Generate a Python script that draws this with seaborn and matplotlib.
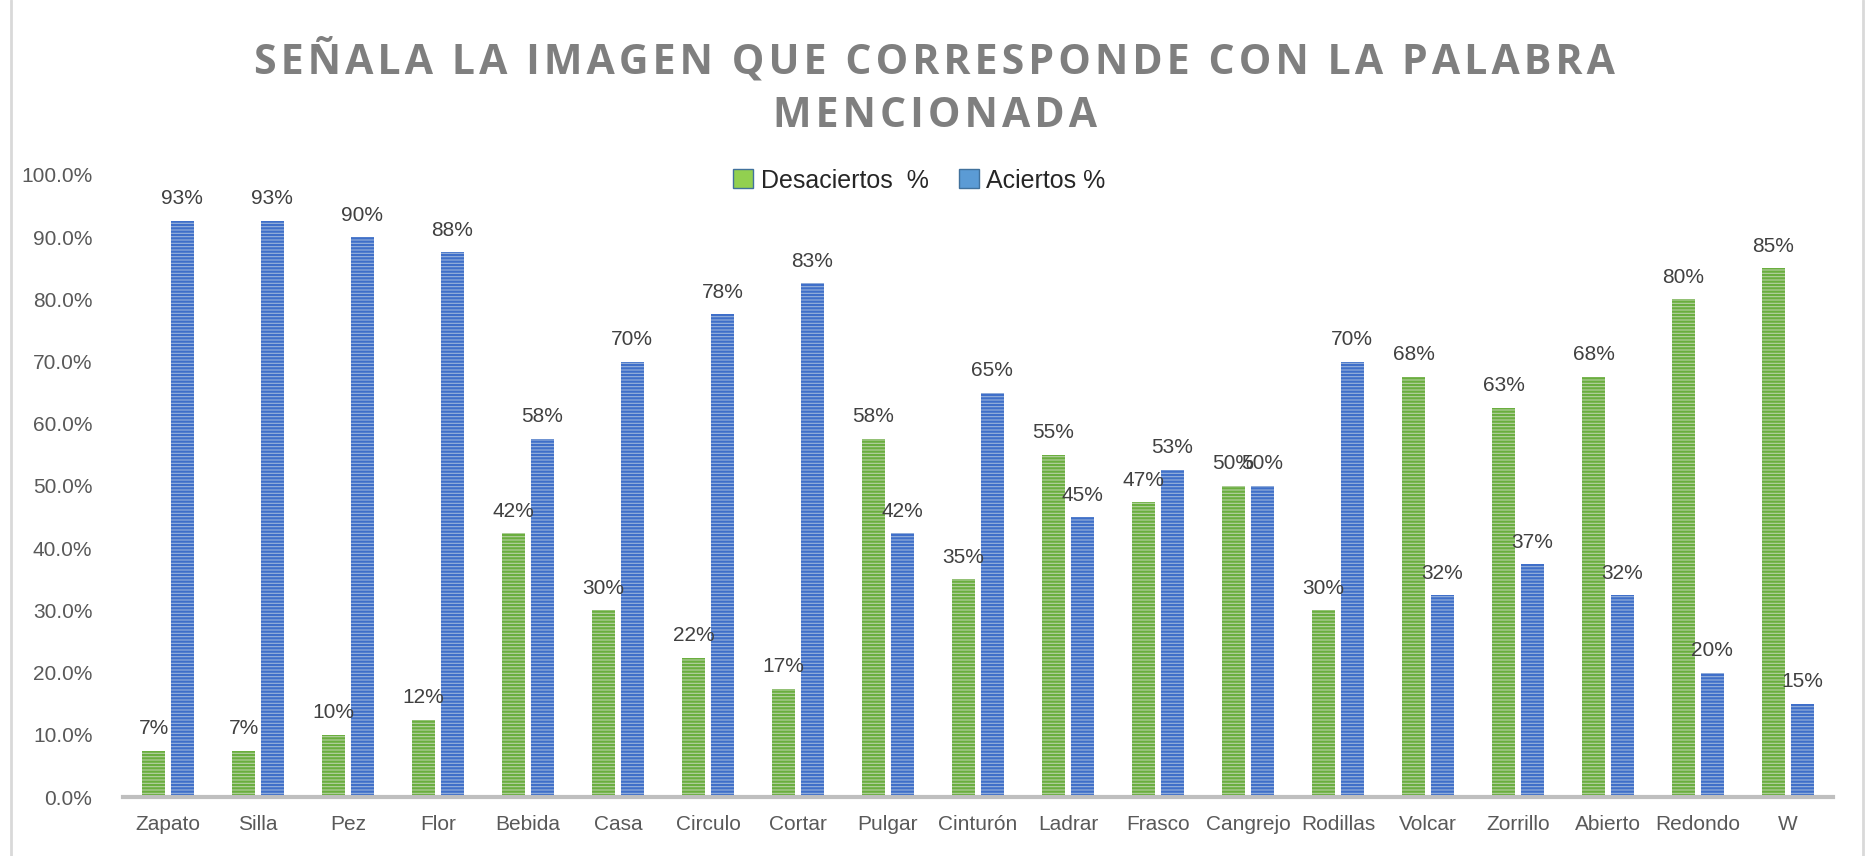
import numpy as np
import pandas as pd
import seaborn as sns
import matplotlib.pyplot as plt
from matplotlib.lines import Line2D
from matplotlib.ticker import FuncFormatter

palabras = ['Zapato', 'Silla', 'Pez', 'Flor', 'Bebida', 'Casa', 'Circulo', 'Cortar',
            'Pulgar', 'Cinturón', 'Ladrar', 'Frasco', 'Cangrejo', 'Rodillas', 'Volcar',
            'Zorrillo', 'Abierto', 'Redondo', 'W']
desaciertos = [7.4, 7.4, 10.0, 12.4, 42.4, 30.0, 22.4, 17.4, 57.6, 35.0, 55.0, 47.4,
               50.0, 30.0, 67.6, 62.6, 67.6, 80.0, 85.0]
aciertos = [92.6, 92.6, 90.0, 87.6, 57.6, 70.0, 77.6, 82.6, 42.4, 65.0, 45.0, 52.6,
            50.0, 70.0, 32.4, 37.4, 32.4, 20.0, 15.0]
series = ['Desaciertos  %', 'Aciertos %']
titulo = ['SEÑALA LA IMAGEN QUE CORRESPONDE CON LA PALABRA', 'MENCIONADA']

df = pd.DataFrame({
    'palabra': palabras * 2,
    'valor': desaciertos + aciertos,
    'serie': [series[0]] * len(palabras) + [series[1]] * len(palabras),
})

sns.set_style('white')
plt.rcParams['font.family'] = ['Liberation Sans', 'DejaVu Sans']
plt.rcParams['hatch.linewidth'] = 1.6

gris = '#595959'
fill = {series[0]: '#b5d99c', series[1]: '#8eb0e6'}
lines = {series[0]: '#6aae3e', series[1]: '#3f6fc9'}

fig = plt.figure(figsize=(18.69, 8.56), dpi=100)
ax = fig.add_axes([0.0658, 0.0689, 0.9149, 0.7267])

sns.barplot(data=df, x='palabra', y='valor', hue='serie', palette=fill,
            width=0.64, gap=0.19, ax=ax, legend=False)

for cont, s in zip(ax.containers, series):
    for p in cont:
        p.set_hatch('-----')
        p.set_edgecolor(lines[s])
        p.set_linewidth(0)
    vals = [p.get_height() for p in cont]
    ax.bar_label(cont, labels=['{:.0f}%'.format(v) for v in vals], padding=9,
                 fontsize=15, color='#404040')

ax.set_ylim(0, 100)
ax.set_xlim(-0.5, len(palabras) - 0.5)
ax.set_yticks(np.arange(0, 101, 10))
ax.yaxis.set_major_formatter(FuncFormatter(lambda v, _: '{:.1f}%'.format(v)))
ax.set_xlabel('')
ax.set_ylabel('')
ax.tick_params(axis='both', length=0, labelsize=15, labelcolor=gris)
ax.tick_params(axis='x', pad=13)
ax.tick_params(axis='y', pad=22)
for side in ['top', 'right', 'left']:
    ax.spines[side].set_visible(False)
ax.spines['bottom'].set_color('#bfbfbf')
ax.spines['bottom'].set_linewidth(3)

handles = [plt.Rectangle((0, 0), 1, 1, facecolor=c, edgecolor='#41719c', linewidth=1)
           for c in ['#92d050', '#5b9bd5']]
fig.legend(handles, series, loc='center', bbox_to_anchor=(0.492, 0.789), ncol=2,
           frameon=False, fontsize=18, handlelength=0.8, handleheight=0.8,
           handletextpad=0.3, columnspacing=1.2, labelcolor='#262626')

# Excel title is letter-spaced; hair spaces between characters approximate it
def espaciar(t):
    return '\u200a'.join(t)

fig.text(0.5, 0.928, espaciar(titulo[0]), ha='center', va='center', fontsize=29.5,
         fontweight='bold', color='#7f7f7f', family=['Open Sans', 'DejaVu Sans'])
fig.text(0.5, 0.864, espaciar(titulo[1]), ha='center', va='center', fontsize=29.5,
         fontweight='bold', color='#7f7f7f', family=['Open Sans', 'DejaVu Sans'])

fig.add_artist(Line2D([0.006, 0.006], [0, 1], color='#d9d9d9', linewidth=2))
fig.add_artist(Line2D([0.997, 0.997], [0, 1], color='#d9d9d9', linewidth=2))

fig.savefig('out.png', dpi=100)
